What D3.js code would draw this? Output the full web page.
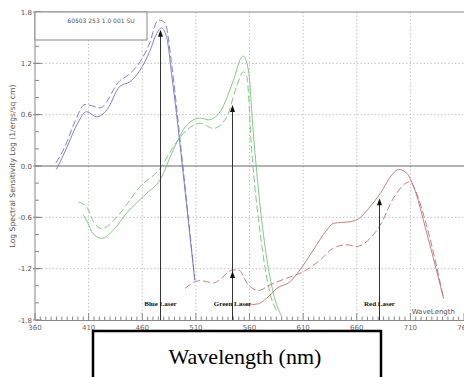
<!DOCTYPE html>
<html><head><meta charset="utf-8">
<script src="https://cdn.jsdelivr.net/npm/d3@7"></script>
<style>html,body{margin:0;padding:0;background:#fff;overflow:hidden}</style>
</head><body>
<svg id="c" width="464" height="377"></svg>
<script>
// ---- data (wavelength nm, log sensitivity) ----
const blueSolid = [[380,-0.04],[389.5,0.21],[399,0.48],[408,0.635],[417.5,0.575],[427,0.655],[439,0.93],[448.5,0.985],[458,1.12],[467,1.34],[473.5,1.55],[478,1.615],[483,1.49],[487.5,1.06],[493.5,0.44],[498,-0.07],[509,-1.34]];
const blueDashed = [[379.5,0.035],[388,0.23],[397.3,0.52],[406.6,0.72],[411.3,0.71],[420.6,0.68],[439.3,1.0],[445.5,1.05],[458,1.22],[467,1.44],[474,1.695],[476,1.705],[481.3,1.67],[487.5,1.18],[495.3,0.3],[509,-1.33]];
const greenSolid = [[405,-0.57],[409,-0.66],[414,-0.79],[422,-0.845],[433,-0.75],[445.5,-0.55],[464,-0.32],[476.5,-0.165],[489,0.19],[501.5,0.48],[514,0.56],[521.7,0.54],[532.6,0.635],[545,1.0],[552.8,1.275],[554.3,1.285],[559,1.12],[563.6,0.38],[570,-0.48],[582.3,-1.49],[590,-1.76]];
const greenDashed = [[400.4,-0.42],[408,-0.48],[415,-0.66],[422,-0.73],[439.3,-0.55],[458,-0.24],[476.6,-0.03],[489,0.225],[501.5,0.42],[514,0.5],[526.3,0.44],[538.8,0.575],[548,0.93],[554.3,1.1],[557.5,1.045],[562,0.19],[570,-0.79],[579.2,-1.49],[585.5,-1.7]];
const redSolid = [[557.5,-1.625],[568.3,-1.61],[576,-1.545],[585.5,-1.43],[598,-1.35],[607,-1.215],[619.6,-0.98],[632,-0.75],[638.3,-0.67],[653.8,-0.65],[660,-0.63],[672.5,-0.475],[682,-0.32],[694,-0.085],[699,-0.04],[706.7,-0.085],[713,-0.24],[725.4,-0.79],[741,-1.55]];
const redDashed = [[500,-1.43],[514,-1.34],[526.3,-1.365],[545,-1.215],[549.6,-1.215],[559,-1.39],[568.3,-1.455],[579,-1.39],[594.8,-1.31],[610.3,-1.235],[625.8,-1.1],[638.3,-0.96],[650.8,-0.92],[660,-0.94],[672.5,-0.845],[682,-0.69],[694,-0.38],[709.8,-0.183],[713,-0.24],[725.4,-0.71],[741,-1.55]];
const lasers = [{name:"Blue Laser", wl:477, tips:[1.57]},{name:"Green Laser", wl:543.5, tips:[0.69,-1.25]},{name:"Red Laser", wl:681, tips:[-0.4]}];
const xTicks = [360,410,460,510,560,610,660,710,760];
const yTicks = [1.8,1.2,0.6,0.0,-0.6,-1.2,-1.8];
const yLabel = "Log Spectral Sensitivity Log (1/ergs/sq cm)";
const boxText = "60503 253 1.0 001 SU";
const xTitle = "Wavelength (nm)";

const svg = d3.select("#c");
const x = d3.scaleLinear().domain([360,760]).range([35,464]);
const y = d3.scaleLinear().domain([-1.8,1.8]).range([320,12]);

// grid
const g = svg.append("g");
g.selectAll(".gx").data(xTicks.filter(d=>d>360&&d<760)).enter().append("line")
 .attr("x1",d=>x(d)).attr("x2",d=>x(d)).attr("y1",12).attr("y2",320)
 .attr("stroke","#c4c4c4").attr("stroke-dasharray","1.5,2");
g.selectAll(".gy").data(yTicks.filter(d=>Math.abs(d)<1.7&&d!==0)).enter().append("line")
 .attr("x1",35).attr("x2",464).attr("y1",d=>y(d)).attr("y2",d=>y(d))
 .attr("stroke","#c4c4c4").attr("stroke-dasharray","1.5,2");

// frame
svg.append("line").attr("x1",35).attr("x2",464).attr("y1",12).attr("y2",12).attr("stroke","#888");
svg.append("line").attr("x1",35).attr("x2",35).attr("y1",12).attr("y2",320).attr("stroke","#888");
svg.append("line").attr("x1",35).attr("x2",464).attr("y1",320.5).attr("y2",320.5).attr("stroke","#888");
svg.append("line").attr("x1",35).attr("x2",464).attr("y1",y(0)).attr("y2",y(0)).attr("stroke","#666");

// y axis minor/major ticks
const yMinor = d3.range(-1.8,1.81,0.2);
svg.selectAll(".ym").data(yMinor).enter().append("line")
 .attr("x1",35).attr("x2",39).attr("y1",d=>y(d)).attr("y2",d=>y(d)).attr("stroke","#888");
svg.selectAll(".yM").data(yTicks).enter().append("line")
 .attr("x1",33).attr("x2",42).attr("y1",d=>y(d)).attr("y2",d=>y(d)).attr("stroke","#888");
svg.selectAll(".yl").data(yTicks).enter().append("text")
 .attr("x",32).attr("y",d=>y(d)+2.5).attr("text-anchor","end")
 .attr("font-family","DejaVu Sans, sans-serif").attr("font-size",7).attr("fill","#555")
 .text(d=>d.toFixed(1));

// x axis ticks
const xMinor = d3.range(360,761,5);
svg.selectAll(".xm").data(xMinor).enter().append("line")
 .attr("x1",d=>x(d)).attr("x2",d=>x(d)).attr("y1",320).attr("y2",d=>d%50===10?313:316.5).attr("stroke","#888");
svg.selectAll(".xl").data(xTicks).enter().append("text")
 .attr("x",d=>x(d)).attr("y",330).attr("text-anchor","middle")
 .attr("font-family","DejaVu Sans, sans-serif").attr("font-size",7).attr("fill","#666")
 .text(d=>d);
svg.append("text").attr("x",455).attr("y",314).attr("text-anchor","end")
 .attr("font-family","DejaVu Sans, sans-serif").attr("font-size",7).attr("fill","#555").text("WaveLength");

// y label
svg.append("text").attr("transform","translate(15,166) rotate(-90)").attr("text-anchor","middle")
 .attr("font-family","DejaVu Sans, sans-serif").attr("font-size",7.6).attr("fill","#555").text(yLabel);

// top-left box
svg.append("rect").attr("x",35).attr("y",12).attr("width",112).attr("height",28).attr("fill","#fff").attr("stroke","#888");
svg.append("text").attr("x",101).attr("y",23).attr("text-anchor","middle")
 .attr("font-family","DejaVu Sans, sans-serif").attr("font-size",6).attr("fill","#555").text(boxText);

// curves
const line = d3.line().x(d=>x(d[0])).y(d=>y(d[1])).curve(d3.curveMonotoneX);
const series = [
 {d:blueSolid,c:"#7272d2",dash:null},{d:blueDashed,c:"#7272d2",dash:"7,3"},
 {d:greenSolid,c:"#74c474",dash:null},{d:greenDashed,c:"#74c474",dash:"7,3"},
 {d:redSolid,c:"#c27070",dash:null},{d:redDashed,c:"#c27070",dash:"7,3"}];
svg.selectAll(".s").data(series).enter().append("path")
 .attr("d",s=>line(s.d)).attr("fill","none").attr("stroke",s=>s.c).attr("stroke-width",0.9)
 .attr("stroke-dasharray",s=>s.dash);

// lasers
lasers.forEach(L=>{
  const lx = Math.round(x(L.wl))+0.5;
  const top = d3.max(L.tips);
  svg.append("line").attr("x1",lx).attr("x2",lx).attr("y1",320).attr("y2",y(top)).attr("stroke","#333").attr("stroke-width",1);
  L.tips.forEach(t=>{
    const ty = y(t);
    svg.append("path").attr("d",`M${lx},${ty-2} L${lx-2.5},${ty+5} L${lx+2.5},${ty+5} Z`).attr("fill","#111");
  });
  svg.append("text").attr("x",lx).attr("y",306).attr("text-anchor","middle")
   .attr("font-family","Liberation Serif, serif").attr("font-weight","bold").attr("font-size",7).attr("fill","#111").text(L.name);
});

// bottom title box
svg.append("rect").attr("x",93).attr("y",331).attr("width",288).attr("height",60).attr("fill","#fff").attr("stroke","#000").attr("stroke-width",2.5);
svg.append("text").attr("x",245).attr("y",364).attr("text-anchor","middle")
 .attr("font-family","Liberation Serif, serif").attr("font-size",22).attr("fill","#000").text(xTitle);
</script>
</body></html>
